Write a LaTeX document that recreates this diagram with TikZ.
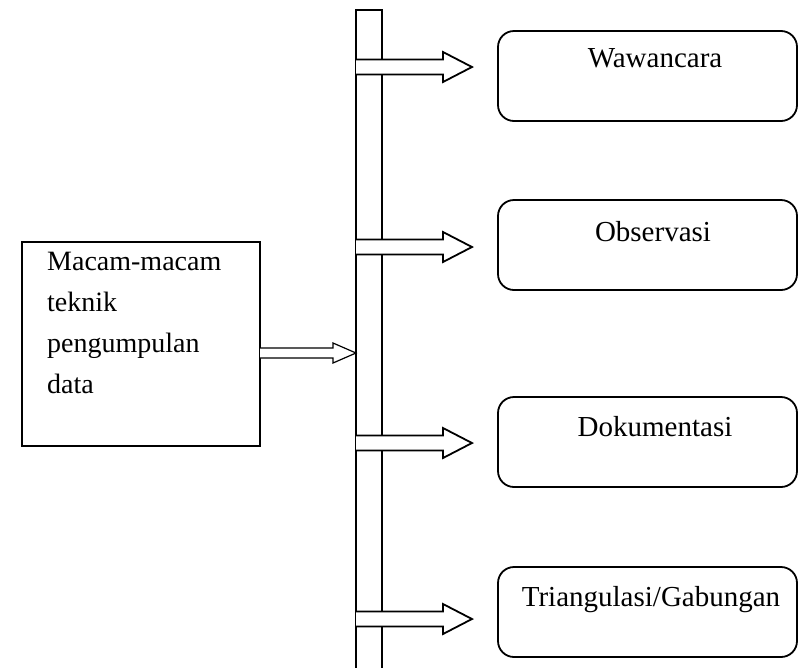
\documentclass[tikz,border=0pt]{standalone}
\usepackage{fontspec}
\setmainfont{Liberation Serif}
\usetikzlibrary{calc}

% hollow block arrow: start (x only), tip, half shaft, half head, head length, line width
\newcommand\blockarrow[6]{%
  \draw[fill=white,line width=#6] let \p1=(#1), \p2=(#2) in
    (\x1,\y2+#3) -- (\x2-#5,\y2+#3) -- (\x2-#5,\y2+#4) -- (\x2,\y2)
    -- (\x2-#5,\y2-#4) -- (\x2-#5,\y2-#3) -- (\x1,\y2-#3);}

\begin{document}
\begin{tikzpicture}[x=1pt,y=-1pt,
  txt/.style={font=\fontsize{29}{40}\selectfont,inner sep=0pt},
  plainbox/.style={draw,line width=1.8pt,inner sep=0pt,outer sep=0pt,anchor=north west},
  rbox/.style={plainbox,rounded corners=16pt,minimum width=299pt,minimum height=90pt}]
\useasboundingbox (0,0) rectangle (799,667);

% left box
\node[plainbox,minimum width=238pt,minimum height=204pt] (teknik) at (22,242) {};
\node[txt,font=\fontsize{28}{41}\selectfont,align=left,anchor=north west] (teknikTxt) at (47,252)
  {Macam-macam\\teknik\\pengumpulan\\data};

% the bar
\node[plainbox,minimum width=26pt,minimum height=680pt] (bar) at (356,10) {};

% right boxes
\node[rbox] (wawancara) at (498,31) {};
\node[rbox] (observasi) at (498,200) {};
\node[rbox] (dokumentasi) at (498,397) {};
\node[rbox] (triangulasi) at (498,567) {};
\node[txt] (wawancaraTxt) at (655,58) {Wawancara};
\node[txt] (observasiTxt) at (653,232) {Observasi};
\node[txt] (dokumentasiTxt) at (655,427) {Dokumentasi};
\node[txt] (triangulasiTxt) at (651,600) {Triangulasi/Gabungan};

% arrow tips
\coordinate (tip0) at (356,353);
\coordinate (tip1) at (472,67);
\coordinate (tip2) at (472,247);
\coordinate (tip3) at (472,443);
\coordinate (tip4) at (472,619);

\blockarrow{teknik.east}{tip0}{5pt}{10pt}{23pt}{1.2pt}
\blockarrow{bar.west}{tip1}{7.5pt}{15pt}{29pt}{1.8pt}
\blockarrow{bar.west}{tip2}{7.5pt}{15pt}{29pt}{1.8pt}
\blockarrow{bar.west}{tip3}{7.5pt}{15pt}{29pt}{1.8pt}
\blockarrow{bar.west}{tip4}{7.5pt}{15pt}{29pt}{1.8pt}
\end{tikzpicture}
\end{document}
